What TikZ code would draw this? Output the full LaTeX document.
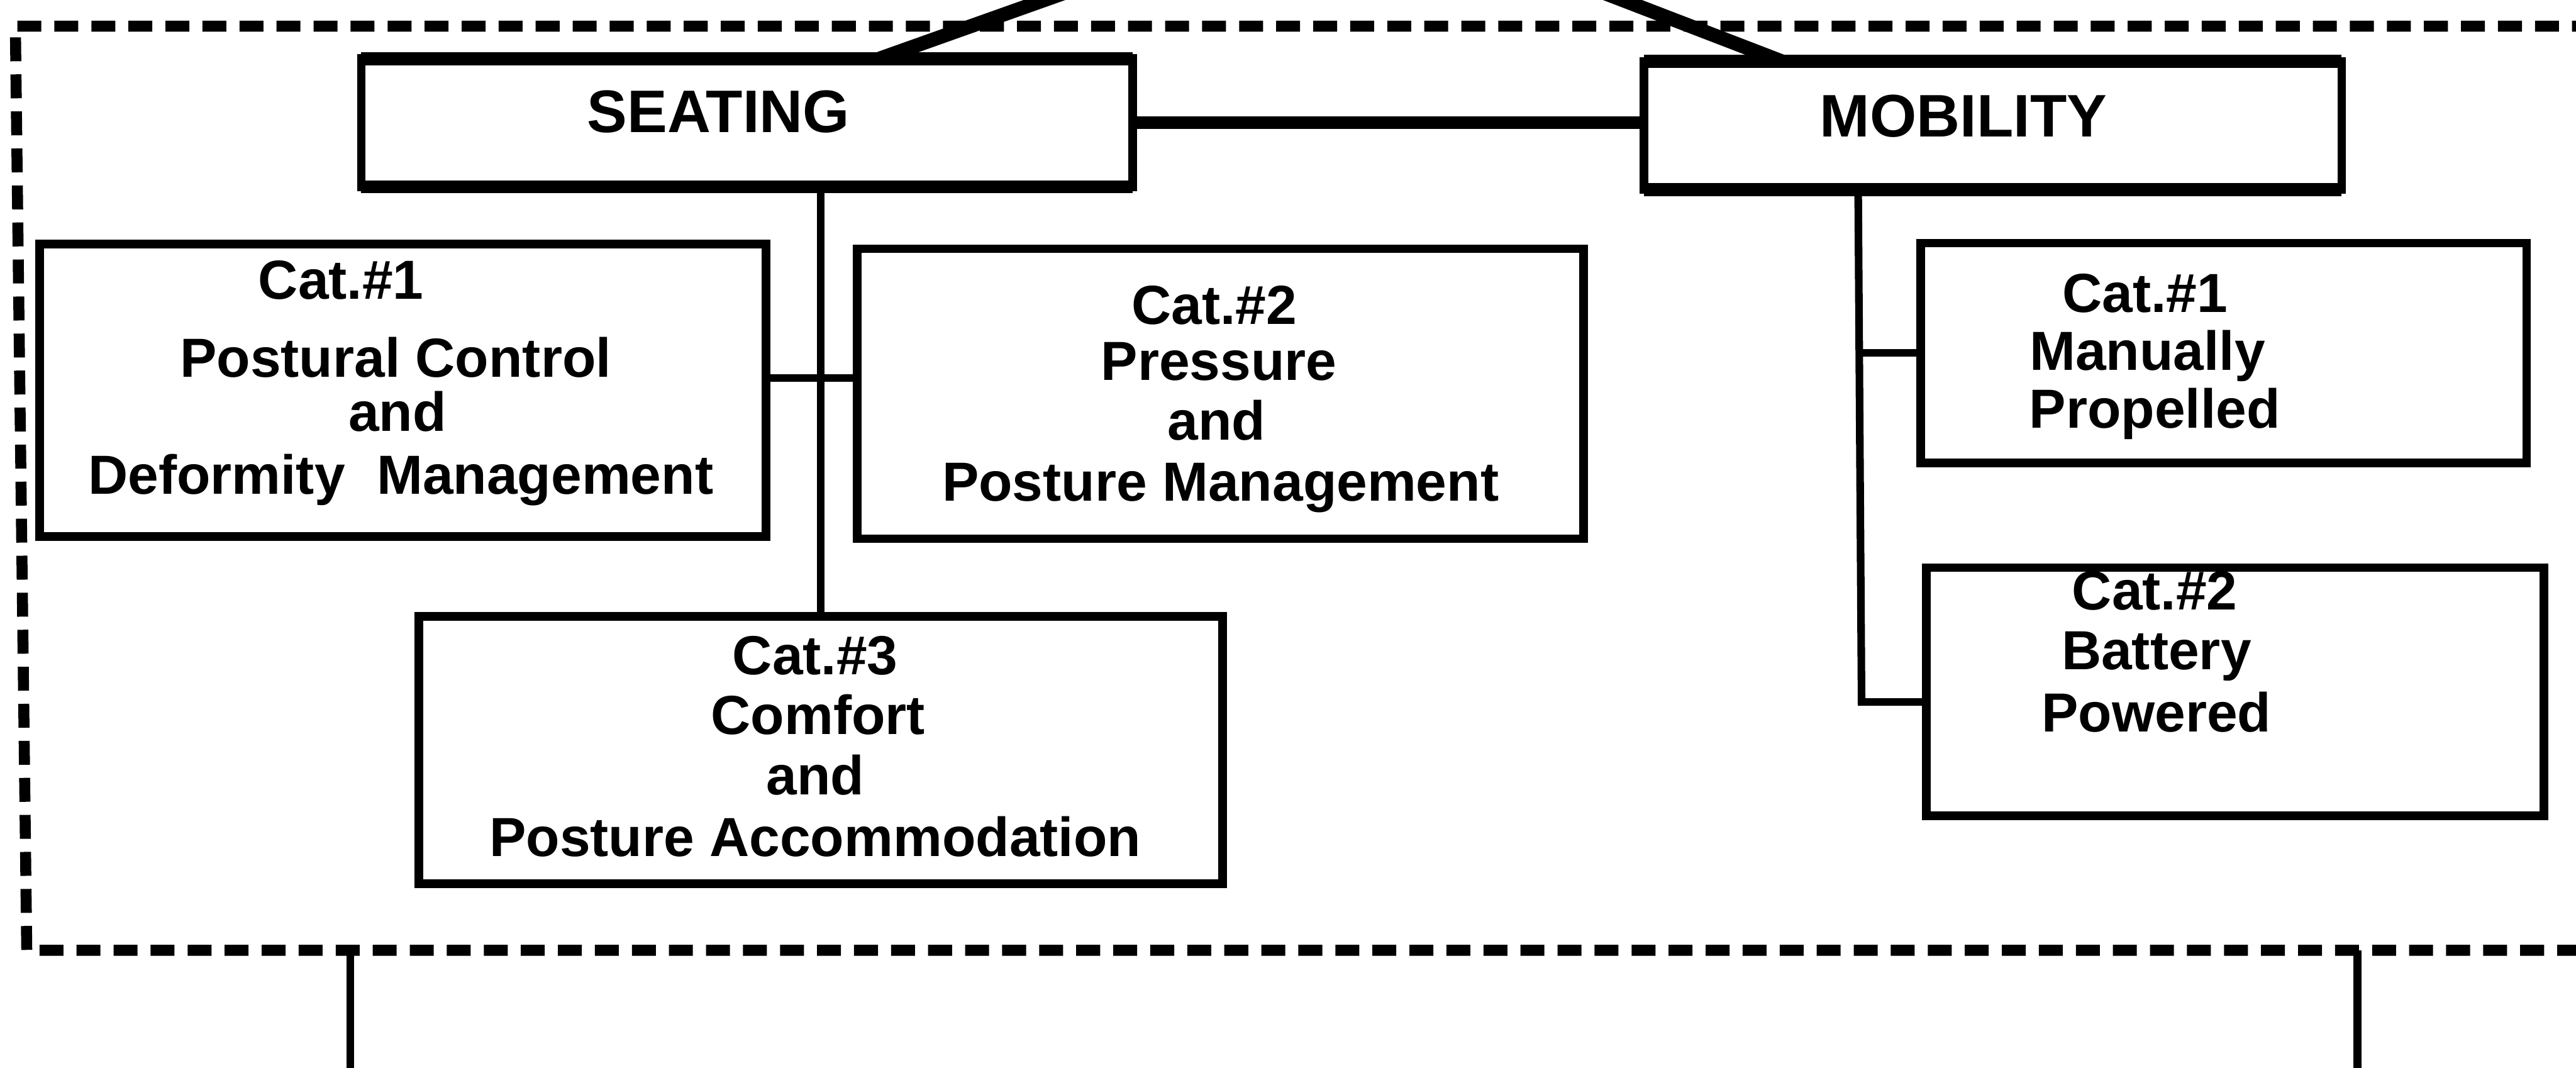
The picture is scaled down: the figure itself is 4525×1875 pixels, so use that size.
\documentclass[tikz,border=0pt]{standalone}
\usepackage{fontspec}
\setmainfont{Liberation Sans}
\usetikzlibrary{calc}
\tikzset{
  box/.style={draw, rectangle, inner sep=0pt, outer sep=0pt, line width=4.3pt},
  topbox/.style={box, line width=4.3pt},
  lbl/.style={inner sep=0pt, anchor=base, font=\bfseries\fontsize{27.5pt}{30pt}\selectfont},
  head/.style={inner sep=0pt, anchor=base, font=\bfseries\fontsize{30pt}{32pt}\selectfont},
  link/.style={line width=3.8pt},
  heavylink/.style={line width=6.5pt},
  slant/.style={line width=7pt},
  dashframe/.style={line width=5.5pt, dash pattern=on 0.42cm off 0.23cm},
}
\begin{document}
\begin{tikzpicture}[x=0.01cm, y=-0.01cm]
\useasboundingbox (0,0) rectangle (4525,1875);

% dashed frame
\draw[dashframe] (4560,46) -- (27,46) -- (47,1669) -- (4560,1669);

% boxes
\node[topbox, minimum width=13.54cm, minimum height=2.25cm] (seat) at (1312,215.5) {};
\node[topbox, minimum width=12.25cm, minimum height=2.25cm] (mob) at (3500.5,220.5) {};
\draw[heavylink] (seat.north west) -- (seat.north east);
\draw[heavylink] (seat.south west) -- (seat.south east);
\draw[heavylink] (mob.north west) -- (mob.north east);
\draw[heavylink] (mob.south west) -- (mob.south east);
\node[box, minimum width=12.75cm, minimum height=5.13cm] (s1) at (707.5,685.5) {};
\node[box, minimum width=12.75cm, minimum height=5.09cm] (s2) at (2143.5,691.5) {};
\node[box, minimum width=14.11cm, minimum height=4.69cm] (s3) at (1441.5,1317.5) {};
\node[box, minimum width=10.64cm, minimum height=3.86cm] (m1) at (3906,620) {};
\node[box, minimum width=10.84cm, minimum height=4.36cm] (m2) at (3926,1215) {};

% headings
\node[head] (tseat) at (1262,233) {SEATING};
\node[head] (tmob) at (3449,240) {MOBILITY};

% seating cat 1
\node[lbl] (s1a) at (599,525) {Cat.\#1};
\node[lbl] (s1b) at (695,662) {Postural Control};
\node[lbl] (s1c) at (698,757) {and};
\node[lbl] (s1d) at (704,868) {Deformity\hspace{0.3em} Management};
% seating cat 2
\node[lbl] (s2a) at (2133,570) {Cat.\#2};
\node[lbl] (s2b) at (2141,668) {Pressure};
\node[lbl] (s2c) at (2137,773) {and};
\node[lbl] (s2d) at (2144,880) {Posture Management};
% seating cat 3
\node[lbl] (s3a) at (1432,1185) {Cat.\#3};
\node[lbl] (s3b) at (1437,1290) {Comfort};
\node[lbl] (s3c) at (1432,1396) {and};
\node[lbl] (s3d) at (1432,1504) {Posture Accommodation};
% mobility cat 1
\node[lbl] (m1a) at (3768,548) {Cat.\#1};
\node[lbl] (m1b) at (3772,650) {Manually};
\node[lbl] (m1c) at (3785,752) {Propelled};
% mobility cat 2
\node[lbl] (m2a) at (3785,1071) {Cat.\#2};
\node[lbl] (m2b) at (3788,1176) {Battery};
\node[lbl] (m2c) at (3788,1285) {Powered};

% connectors
\draw[heavylink] (seat.east) -- (seat.east -| mob.west);
\draw[link] (s3.north) -- (s3.north |- seat.south);
\coordinate (h12) at (1441.5,664);
\draw[link] (h12 -| s1.east) -- (h12 -| s2.west);
\coordinate (mtop) at (3264,333);
\coordinate (mbend) at (3270,1233);
\draw[link] (mtop) -- (mbend) -- (mbend -| m2.west);
\draw[link] (mtop |- m1.west) -- (m1.west);

% lines from above
\coordinate (tl) at (1891,-20);
\coordinate (tr) at (2798,-20);
\draw[slant] (tl) -- ($(seat.north)+(233,0)$);
\draw[slant] (tr) -- ($(mob.north)+(-370,0)$);

% lines downward
\coordinate (b1) at (615,1669);
\coordinate (b2) at (4141,1669);
\draw[link] (b1) -- ++(0,240);
\draw[link] (b2) -- ++(0,240);
\end{tikzpicture}
\end{document}
